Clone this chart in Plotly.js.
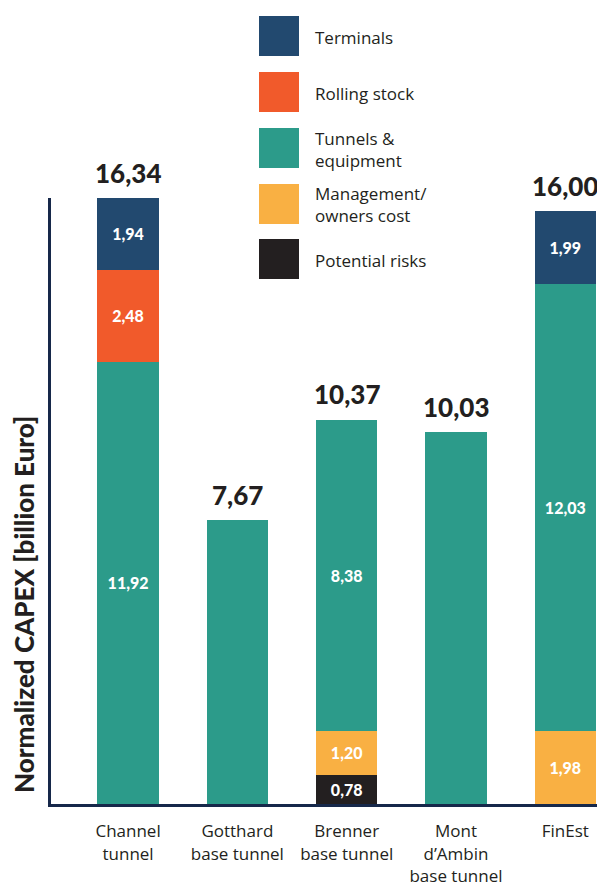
<!DOCTYPE html>
<html>
<head>
<meta charset="utf-8">
<script src="https://cdn.plot.ly/plotly-3.0.1.min.js"></script>
<style>html,body{margin:0;padding:0;background:#fff;}#chart{width:597px;height:884px;}</style>
</head>
<body>
<div id="chart"></div>
<script>
// ---- Data ----
var categories = ["Channel<br>tunnel", "Gotthard<br>base tunnel", "Brenner<br>base tunnel", "Mont<br>d\u2019Ambin<br>base tunnel", "FinEst"];
var potentialRisks = [null, null, 0.78, null, null];
var management = [null, null, 1.20, null, 1.98];
var tunnels = [11.92, 7.67, 8.38, 10.03, 12.03];
var rollingStock = [2.48, null, null, null, null];
var terminals = [1.94, null, null, null, 1.99];
var totals = [16.34, 7.67, 10.37, 10.03, 16.00];

var seriesNames = ["Potential risks", "Management/<br>owners cost", "Tunnels &<br>equipment", "Rolling stock", "Terminals"];
var seriesColors = ["#231f20", "#f9b043", "#2c9b8a", "#f15a2b", "#22496f"];
var seriesValues = [potentialRisks, management, tunnels, rollingStock, terminals];

// ---- Layout geometry helpers ----
var W = 597, H = 884;
var M = {l: 51, r: 0, t: 198, b: 80};
var PW = W - M.l - M.r, PH = H - M.t - M.b;
function px(x) { return (x - M.l) / PW; }
function py(y) { return (H - M.b - y) / PH; }

var FONT = "'Open Sans', Lato, sans-serif";
var BFONT = "Lato, 'Open Sans', sans-serif";
var TXT = "#231f20";

function fmt(v) { return v.toFixed(2).replace('.', ','); }

var segCount = categories.map(function (c, i) {
  return seriesValues.filter(function (s) { return s[i] != null; }).length;
});

var traces = seriesValues.map(function (vals, k) {
  return {
    type: 'bar',
    name: seriesNames[k],
    x: categories,
    y: vals,
    marker: {color: seriesColors[k], line: {width: 0}},
    text: vals.map(function (v, i) { return (v != null && segCount[i] > 1) ? fmt(v) : ''; }),
    textposition: 'inside',
    insidetextanchor: 'middle',
    constraintext: 'none',
    textfont: {family: BFONT, size: 16, color: '#ffffff', weight: 900},
    hoverinfo: 'x+y',
    showlegend: false
  };
});

var annotations = [];
categories.forEach(function (c, i) {
  annotations.push({
    x: c, y: totals[i], xref: 'x', yref: 'y',
    text: fmt(totals[i]),
    showarrow: false, yanchor: 'bottom', yshift: 7,
    font: {family: BFONT, size: 26, color: TXT, weight: 900}
  });
});
annotations.push({
  x: px(24), y: py(605), xref: 'paper', yref: 'paper',
  text: 'Normalized CAPEX [billion Euro]',
  textangle: -90, showarrow: false, xanchor: 'center', yanchor: 'middle',
  font: {family: BFONT, size: 26, color: TXT, weight: 900}
});

var shapes = [];
var legTop = [16, 72, 128, 184, 239];
for (var j = 0; j < seriesNames.length; j++) {
  var k = seriesNames.length - 1 - j;
  var y0 = legTop[j];
  shapes.push({
    type: 'rect', xref: 'paper', yref: 'paper',
    x0: px(259), x1: px(299), y0: py(y0 + 40), y1: py(y0),
    fillcolor: seriesColors[k], line: {width: 0}
  });
  annotations.push({
    x: px(313), y: py(y0 + 21), xref: 'paper', yref: 'paper',
    text: seriesNames[k], align: 'left',
    showarrow: false, xanchor: 'left', yanchor: 'middle',
    font: {family: FONT, size: 17, color: TXT}
  });
}

var layout = {
  width: W, height: H,
  margin: M,
  paper_bgcolor: '#ffffff', plot_bgcolor: '#ffffff',
  barmode: 'stack',
  bargap: 0.44,
  showlegend: false,
  font: {family: FONT, color: TXT},
  xaxis: {
    type: 'category',
    range: [-0.705, 4.29],
    showline: true, linecolor: '#16284a', linewidth: 3,
    showgrid: false, zeroline: false, ticks: '',
    ticklabelstandoff: 10,
    tickfont: {family: FONT, size: 17, color: TXT}
  },
  yaxis: {
    range: [0, 16.34],
    showline: true, linecolor: '#16284a', linewidth: 3,
    showgrid: false, zeroline: false, ticks: '', showticklabels: false
  },
  shapes: shapes,
  annotations: annotations
};

Plotly.newPlot('chart', traces, layout, {displayModeBar: false, staticPlot: true});
</script>
</body>
</html>
